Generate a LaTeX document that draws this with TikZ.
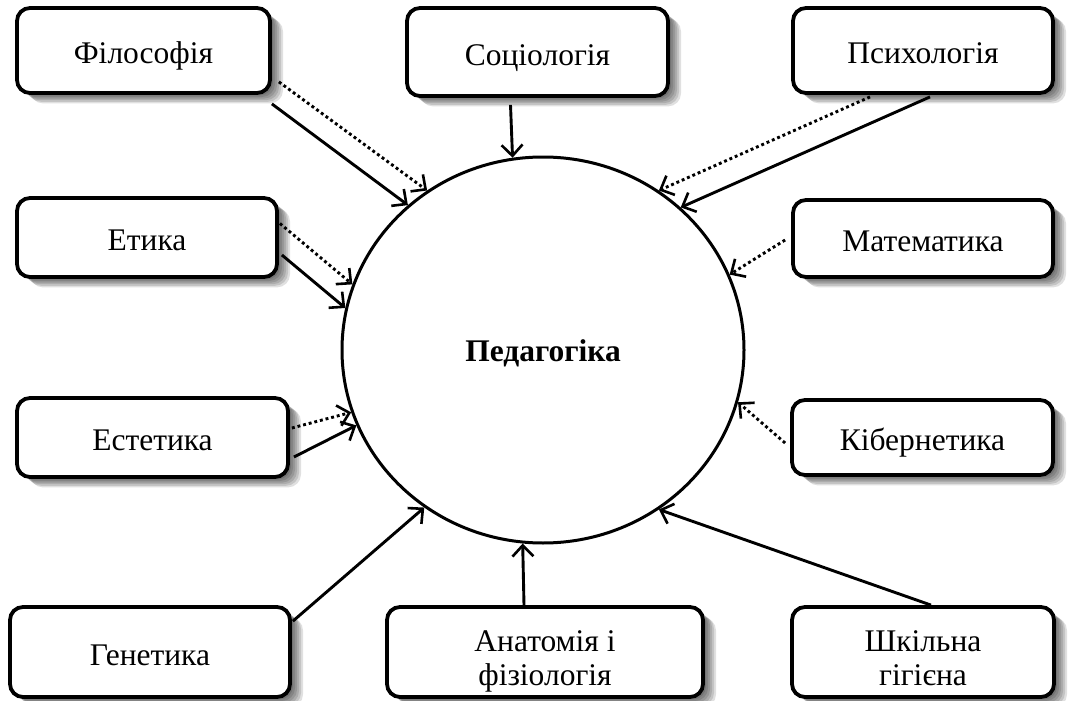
\documentclass[tikz,border=0pt]{standalone}
\usepackage{fontspec}
\setmainfont{Liberation Serif}
\usetikzlibrary{shapes.geometric,shadows,arrows.meta}
\newcommand{\twolines}[2]{\begin{tabular}[t]{@{}c@{}}#1\\#2\end{tabular}}
\tikzset{
  sh/.style={general shadow={fill=black,opacity=0.12,shadow xshift=#1pt,shadow yshift=-#1pt*0.8}},
  boxsh/.style={sh=3,sh=5,sh=7,sh=9,sh=11,sh=13},
  box/.style={draw=black,line width=3.8pt,rounded corners=13pt,fill=white,inner sep=0pt,
    font=\fontsize{31.5}{34}\selectfont,boxsh,text height=26.5pt,text depth=0pt},
  twoline/.style={text height=17pt,text depth=19pt},
  sol/.style={line width=2.9pt,-{Straight Barb[length=11pt,width=21pt,line width=2.6pt]}},
  dot/.style={line width=2.9pt,dash pattern=on 2.9pt off 2.9pt,-{Straight Barb[length=11pt,width=21pt,line width=2.6pt]}},
}
\begin{document}
\begin{tikzpicture}[x=1pt,y=-1pt]
\useasboundingbox (0,0) rectangle (1074,701);
\fill[white] (0,0) rectangle (1074,701);
\node[box,minimum width=253pt,minimum height=85pt] (fil) at (143.5,50.5) {Філософія};
\node[box,minimum width=261pt,minimum height=88pt] (soc) at (537.5,52) {Соціологія};
\node[box,minimum width=260pt,minimum height=85pt] (psy) at (923,50.5) {Психологія};
\node[box,minimum width=260pt,minimum height=79pt] (eti) at (147,237.5) {Етика};
\node[box,minimum width=260pt,minimum height=77pt] (mat) at (923,238.5) {Математика};
\node[box,minimum width=271pt,minimum height=79pt] (est) at (152.5,437.5) {Естетика};
\node[box,minimum width=261pt,minimum height=75pt] (kib) at (922.5,437.5) {Кібернетика};
\node[box,minimum width=280pt,minimum height=90pt] (gen) at (150,652) {Генетика};
\node[box,twoline,minimum width=316pt,minimum height=90pt] (ana) at (545,652) {\twolines{Анатомія і}{фізіологія}};
\node[box,twoline,minimum width=262pt,minimum height=90pt] (shk) at (923,652) {\twolines{Шкільна}{гігієна}};
\node[ellipse,draw=black,line width=3pt,minimum width=402pt,minimum height=386pt,inner sep=0pt,
  font=\fontsize{31.5}{34}\selectfont\bfseries,text height=23pt,text depth=0pt] (ped) at (543,350) {Педагогіка};
% connectors
\draw[sol] ([shift={(0,9)}]fil.south east) -- (ped.133.6);
\draw[dot] ([shift={(7,-13)}]fil.south east) -- (ped.126.1);
\draw[sol] ([shift={(-27,7)}]soc.south) -- (ped.99.7);
\draw[dot] ([shift={(-53,2)}]psy.south) -- (ped.54.8);
\draw[sol] ([shift={(7,2)}]psy.south) -- (ped.46.6);
\draw[dot] ([shift={(-6,1.5)}]mat.west) -- (ped.22.1);
\draw[dot] ([shift={(-5,5.5)}]kib.west) -- (ped.-15.3);
\draw[dot] ([shift={(1,-14)}]eti.east) -- (ped.161.4);
\draw[sol] ([shift={(3,17.5)}]eti.east) -- (ped.168.3);
\draw[dot] ([shift={(2,-9.5)}]est.east) -- (ped.198.1);
\draw[sol] ([shift={(4,19.5)}]est.east) -- (ped.202.7);
\draw[sol] ([shift={(1,16)}]gen.north east) -- (ped.233.2);
\draw[sol] ([shift={(-21,0)}]ana.north) -- (ped.264.4);
\draw[sol] ([shift={(8,0)}]shk.north) -- (ped.306.4);
\end{tikzpicture}
\end{document}
